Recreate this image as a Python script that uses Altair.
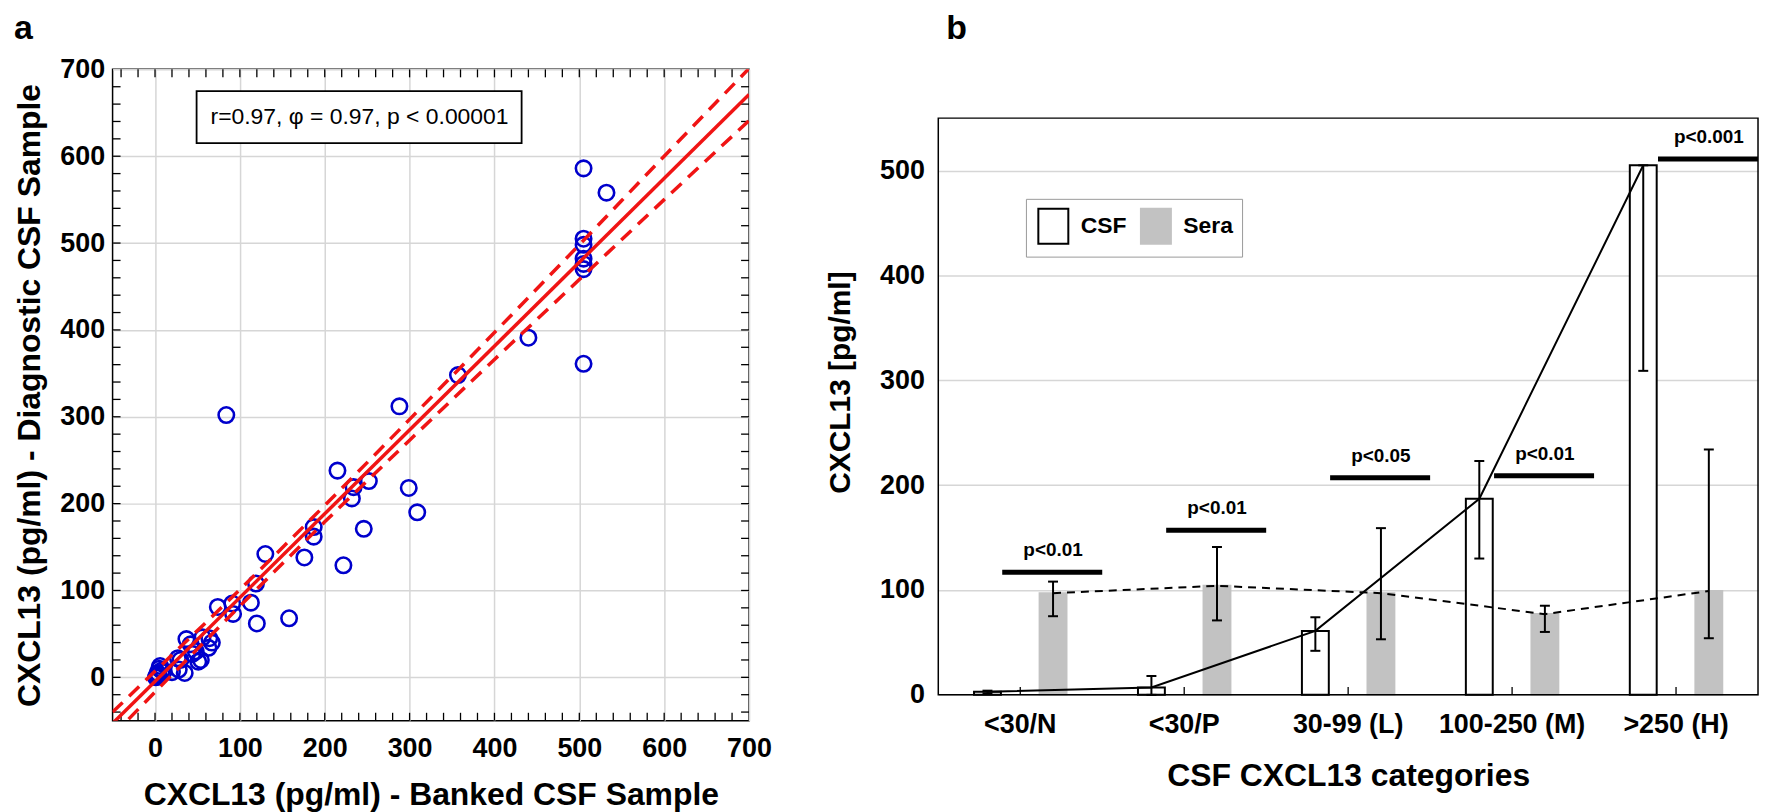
import altair as alt
import pandas as pd

# ---------------- Panel a data ----------------
banked = [2, 3, 5, 6, 8, 1, 4, 10, 20, 28, 35, 27, 37, 42, 51, 56, 63, 67, 64, 44, 48, 54, 30,
          74, 91, 92, 113, 119, 120, 130, 158, 176, 187, 187, 222, 215, 234, 232, 252, 246,
          299, 309, 288, 84, 357, 440, 505, 505, 505, 505, 505, 505, 532, 505]
diagnostic = [2, 5, 10, 13, 8, 0, 3, 6, 6, 9, 5, 22, 44, 38, 18, 46, 34, 40, 45, 27, 30, 20, 20,
              81, 85, 73, 86, 108, 62, 142, 68, 138, 173, 162, 129, 238, 219, 206, 226, 171,
              218, 190, 312, 302, 348, 391, 505, 498, 482, 476, 470, 361, 558, 586]

fit_x = [-50, 700]
fit_y = [-53, 671]
ci_x = [-50, 0, 100, 200, 300, 400, 500, 600, 700]
ci_upper = [-40, 7, 101, 198, 297, 397, 498, 600, 701]
ci_lower = [-67, -17, 82, 179, 273, 366, 458, 550, 641]

major_ticks_a = [0, 100, 200, 300, 400, 500, 600, 700]
minor_ticks_a = [-40, -20, 0, 20, 40, 60, 80, 100, 120, 140, 160, 180, 200, 220, 240, 260,
                 280, 300, 320, 340, 360, 380, 400, 420, 440, 460, 480, 500, 520, 540, 560,
                 580, 600, 620, 640, 660, 680]

stats_text = "r=0.97, φ = 0.97, p < 0.00001"

# ---------------- Panel b data ----------------
categories = ["<30/N", "<30/P", "30-99 (L)", "100-250 (M)", ">250 (H)"]
csf_mean = [3, 7, 61, 187, 505]
csf_low = [1.5, 0, 42, 130, 309]
csf_high = [4, 18, 74, 223, 505]
sera_mean = [97, 104, 97, 77, 99]
sera_low = [75, 71, 53, 60, 54]
sera_high = [108, 141, 159, 85, 234]
p_labels = ["p<0.01", "p<0.01", "p<0.05", "p<0.01", "p<0.001"]
p_level = [117, 157, 207, 209, 511]
y_ticks_b = [0, 100, 200, 300, 400, 500]

FONT = "Liberation Sans"
RED = "#f01414"
BLUE = "#0000cc"
GRAY = "#c2c2c2"
W_A, H_A = 639, 654
W_B, H_B = 823, 628

# ---------------- Panel a ----------------
df_pts = pd.DataFrame({"banked": banked, "diag": diagnostic})
df_fit = pd.DataFrame({"x": fit_x, "y": fit_y})
df_ci = pd.concat([
    pd.DataFrame({"x": ci_x, "y": ci_upper, "b": "upper"}),
    pd.DataFrame({"x": ci_x, "y": ci_lower, "b": "lower"}),
])
df_box = pd.DataFrame({"x": [49], "x2": [432], "y": [615], "y2": [675],
                       "tx": [241], "ty": [645], "t": [stats_text]})
df_minor = pd.DataFrame({"v": minor_ticks_a})

xa = alt.Scale(domain=[-50, 700], nice=False, zero=False)
ya = alt.Scale(domain=[-50, 700], nice=False, zero=False)

pts = alt.Chart(df_pts).mark_point(
    shape="circle", filled=False, stroke=BLUE, strokeWidth=2.6, size=240, opacity=1, clip=True
).encode(
    x=alt.X("banked:Q", scale=xa,
            axis=alt.Axis(values=major_ticks_a, title="CXCL13 (pg/ml) - Banked CSF Sample",
                          labelPadding=15, titlePadding=18, labelFlush=False, grid=True)),
    y=alt.Y("diag:Q", scale=ya,
            axis=alt.Axis(values=major_ticks_a, title="CXCL13 (pg/ml) - Diagnostic CSF Sample",
                          labelPadding=8, titlePadding=13, labelFlush=False, grid=True)),
)
fit = alt.Chart(df_fit).mark_line(color=RED, strokeWidth=3.5, clip=True).encode(
    x=alt.X("x:Q", scale=xa), y=alt.Y("y:Q", scale=ya))
ci = alt.Chart(df_ci).mark_line(color=RED, strokeWidth=3.5, strokeDash=[14, 9],
                                interpolate="monotone", clip=True).encode(
    x=alt.X("x:Q", scale=xa), y=alt.Y("y:Q", scale=ya), detail="b:N")
box = alt.Chart(df_box).mark_rect(fill="white", stroke="black", strokeWidth=1.8).encode(
    x=alt.X("x:Q", scale=xa), x2="x2:Q", y=alt.Y("y:Q", scale=ya), y2="y2:Q")
txt = alt.Chart(df_box).mark_text(font=FONT, fontSize=23, color="black").encode(
    x=alt.X("tx:Q", scale=xa), y=alt.Y("ty:Q", scale=ya), text="t:N")

tick_kw = dict(color="black", size=8, thickness=1.3, opacity=1)
t_bottom = alt.Chart(df_minor).mark_tick(orient="vertical", yOffset=-4, **tick_kw).encode(
    x=alt.X("v:Q", scale=xa), y=alt.YDatum(-50, type="quantitative"))
t_top = alt.Chart(df_minor).mark_tick(orient="vertical", yOffset=4, **tick_kw).encode(
    x=alt.X("v:Q", scale=xa), y=alt.YDatum(700, type="quantitative"))
t_left = alt.Chart(df_minor).mark_tick(orient="horizontal", xOffset=4, **tick_kw).encode(
    y=alt.Y("v:Q", scale=ya), x=alt.XDatum(-50, type="quantitative"))
t_right = alt.Chart(df_minor).mark_tick(orient="horizontal", xOffset=-4, **tick_kw).encode(
    y=alt.Y("v:Q", scale=ya), x=alt.XDatum(700, type="quantitative"))

panel_a = alt.layer(pts, t_bottom, t_top, t_left, t_right, fit, ci, box, txt).properties(
    width=W_A, height=H_A,
    title=alt.TitleParams("a", anchor="start", frame="bounds", fontSize=34,
                          font=FONT, fontWeight="bold", offset=9),
    view=alt.ViewBackground(stroke="black", strokeWidth=1.5),
)

# ---------------- Panel b ----------------
rows = []
for i, c in enumerate(categories):
    rows.append({"cat": c, "series": "CSF", "mean": csf_mean[i], "lo": csf_low[i], "hi": csf_high[i]})
    rows.append({"cat": c, "series": "Sera", "mean": sera_mean[i], "lo": sera_low[i], "hi": sera_high[i]})
df_b = pd.DataFrame(rows)
df_p = pd.DataFrame({"cat": categories, "p": p_labels, "lvl": p_level})
df_frame = pd.DataFrame({"top": [550], "bottom": [0]})
df_cat = pd.DataFrame({"cat": categories})

xb = alt.Scale(domain=categories, paddingInner=0, paddingOuter=0)
xo = alt.Scale(domain=["CSF", "Sera"], paddingInner=0.59, paddingOuter=0.545)
yb = alt.Scale(domain=[0, 596.5], nice=False)

X = alt.X("cat:N", scale=xb, sort=categories,
          axis=alt.Axis(title="CSF CXCL13 categories", labelAngle=0, labelPadding=17,
                        titlePadding=23, labelFontSize=27, titleFontSize=32))
XO = alt.XOffset("series:N", scale=xo)

leg = alt.Legend(title=None, orient="none", legendX=88, legendY=130, direction="horizontal",
                 symbolType="M-0.86,-1H0.86V1H-0.86Z", symbolSize=1225, symbolStrokeWidth=2,
                 labelFont=FONT, labelFontSize=23, labelFontWeight="bold", labelOffset=9,
                 strokeColor="#999999", fillColor="white", padding=9, columnPadding=10)

bars = alt.Chart(df_b).mark_bar(strokeWidth=2).encode(
    x=X, xOffset=XO,
    y=alt.Y("mean:Q", scale=yb,
            axis=alt.Axis(values=y_ticks_b, title="CXCL13 [pg/ml]",
                          labelPadding=14, titlePadding=24, labelFontSize=27, titleFontSize=30)),
    fill=alt.Fill("series:N", scale=alt.Scale(domain=["CSF", "Sera"], range=["white", GRAY]), legend=leg),
    stroke=alt.Stroke("series:N", scale=alt.Scale(domain=["CSF", "Sera"], range=["black", GRAY]), legend=leg),
)
err = alt.Chart(df_b).mark_rule(color="black", strokeWidth=2).encode(
    x=X, xOffset=XO, y=alt.Y("lo:Q", scale=yb), y2="hi:Q")
cap_lo = alt.Chart(df_b).mark_tick(color="black", size=10, thickness=2, opacity=1).encode(
    x=X, xOffset=XO, y=alt.Y("lo:Q", scale=yb))
cap_hi = alt.Chart(df_b).mark_tick(color="black", size=10, thickness=2, opacity=1).encode(
    x=X, xOffset=XO, y=alt.Y("hi:Q", scale=yb))
line_csf = alt.Chart(df_b).transform_filter(alt.datum.series == "CSF").mark_line(
    color="black", strokeWidth=2).encode(
    x=X, xOffset=XO, y=alt.Y("mean:Q", scale=yb))
line_sera = alt.Chart(df_b).transform_filter(alt.datum.series == "Sera").mark_line(
    color="black", strokeWidth=2, strokeDash=[8, 6]).encode(
    x=X, xOffset=XO, y=alt.Y("mean:Q", scale=yb))
p_line = alt.Chart(df_p).mark_rule(color="black", strokeWidth=5).encode(
    x=alt.X("cat:N", scale=xb, sort=categories, bandPosition=0.39),
    x2=alt.X2("cat:N", bandPosition=1.0),
    y=alt.Y("lvl:Q", scale=yb))
p_text = alt.Chart(df_p).mark_text(font=FONT, fontSize=19, fontWeight="bold", dy=-22).encode(
    x=alt.X("cat:N", scale=xb, sort=categories, bandPosition=0.70),
    y=alt.Y("lvl:Q", scale=yb), text="p:N")
frame_b = alt.Chart(df_frame).mark_rect(fill=None, stroke="black", strokeWidth=1.5).encode(
    x=alt.value(0), x2=alt.value(W_B),
    y=alt.Y("top:Q", scale=yb), y2="bottom:Q")
t_cat = alt.Chart(df_cat).mark_tick(orient="vertical", yOffset=-4, color="black", size=8,
                                    thickness=1.3, opacity=1).encode(
    x=alt.X("cat:N", scale=xb, sort=categories), y=alt.YDatum(0, type="quantitative"))

panel_b = alt.layer(bars, err, cap_lo, cap_hi, line_csf, line_sera, p_line, p_text,
                    frame_b, t_cat).properties(
    width=W_B, height=H_B,
    title=alt.TitleParams("b", anchor="start", frame="group", fontSize=34, dx=8,
                          font=FONT, fontWeight="bold", offset=23),
    view=alt.ViewBackground(stroke=None),
)

chart = alt.hconcat(panel_a, panel_b, spacing=52).properties(
    padding={"left": 5, "top": 2, "right": 0, "bottom": 0}
).resolve_scale(
    fill="independent", stroke="independent"
).resolve_legend(
    fill="independent", stroke="independent"
).configure_axis(
    labelFont=FONT, titleFont=FONT, labelFontWeight="bold", titleFontWeight="bold",
    labelFontSize=27, titleFontSize=32, labelColor="black", titleColor="black",
    domain=False, ticks=False, gridColor="#d6d6d6", gridWidth=1.5,
).configure_axisX(grid=True).configure_axisBand(grid=False)

chart.save("out.html", embed_options={"renderer": "svg", "actions": False})
